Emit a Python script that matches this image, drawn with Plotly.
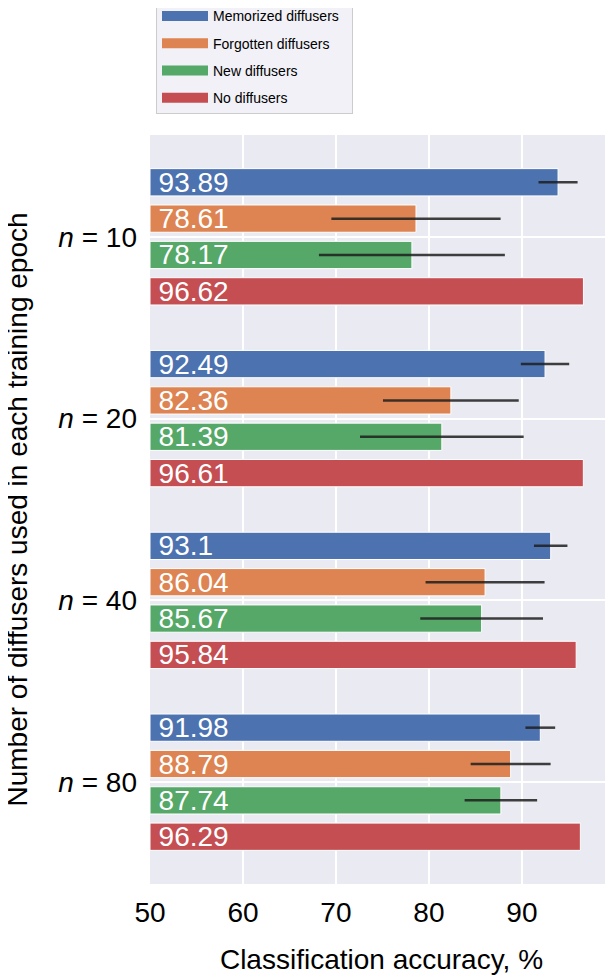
import plotly.graph_objects as go

# Veriler
groups = ["n = 10", "n = 20", "n = 40", "n = 80"]
group_labels = ["<i>n</i> = 10", "<i>n</i> = 20", "<i>n</i> = 40", "<i>n</i> = 80"]
series = ["Memorized diffusers", "Forgotten diffusers", "New diffusers", "No diffusers"]
colors = ["#4C72B0", "#DD8452", "#55A868", "#C44E52"]

memorized = [93.89, 92.49, 93.1, 91.98]
forgotten = [78.61, 82.36, 86.04, 88.79]
new = [78.17, 81.39, 85.67, 87.74]
no_diff = [96.62, 96.61, 95.84, 96.29]

memorized_err = [2.1, 2.6, 1.8, 1.6]
forgotten_err = [9.1, 7.3, 6.4, 4.3]
new_err = [10.0, 8.8, 6.6, 3.9]
no_diff_err = [0, 0, 0, 0]

values = [memorized, forgotten, new, no_diff]
errors = [memorized_err, forgotten_err, new_err, no_diff_err]

X_MIN = 50  # eksen başlangıcı, barlar buradan başlıyor
FONT = "Liberation Sans, Arial, Helvetica, sans-serif"

fig = go.Figure()
for name, vals, errs, col in zip(series, values, errors, colors):
    fig.add_trace(go.Bar(
        y=groups, x=[v - X_MIN for v in vals], base=X_MIN,
        orientation="h", name=name,
        marker=dict(color=col, line=dict(color="white", width=1)),
        text=["\u2009" + str(v) for v in vals],
        textposition="inside", insidetextanchor="start",
        textangle=0, constraintext="none",
        textfont=dict(color="white", size=28, family=FONT),
        error_x=dict(type="data", array=errs, visible=True,
                     color="rgba(30,30,30,0.85)", thickness=2.5, width=0),
        showlegend=False, customdata=vals,
        hovertemplate="%{customdata}<extra>" + name + "</extra>",
    ))

# legend kutuları (geniş renk şeritleri için)
for name, col in zip(series, colors):
    fig.add_trace(go.Scatter(
        x=[None], y=[None], mode="lines", name=name + "\u00a0\u00a0",
        legendgroup=name, line=dict(color=col, width=12), showlegend=True,
    ))

# sayfa 8px kenar boşluğuyla açılıyor, ölçüler buna göre
W, H = 605, 967
fig.update_layout(
    width=W, height=H,
    margin=dict(l=142, r=0, t=127, b=91, autoexpand=False),
    barmode="group", bargap=0.2, bargroupgap=0.25,
    plot_bgcolor="#EAEAF2", paper_bgcolor="white",
    font=dict(family=FONT, color="black", size=28),
    legend=dict(
        x=148 / W, y=1.181, xref="container", yref="paper",
        xanchor="left", yanchor="top",
        bgcolor="rgba(240,240,246,0.9)", bordercolor="#CCCCCC", borderwidth=1,
        font=dict(size=14, family=FONT), tracegroupgap=6, itemwidth=46,
    ),
    xaxis=dict(
        range=[X_MIN, 99.8], tickvals=[50, 60, 70, 80, 90],
        showgrid=True, gridcolor="white", gridwidth=1.5,
        zeroline=False, showline=False, ticks="", tickangle=0,
        automargin=False,
        ticklabelstandoff=9, tickfont=dict(size=28),
        title=dict(text="Classification accuracy, %", font=dict(size=28), standoff=23),
    ),
    yaxis=dict(
        type="category", categoryarray=groups,
        range=[3.56, -0.56], automargin=False,
        tickvals=groups, ticktext=group_labels,
        showgrid=True, gridcolor="white", gridwidth=1.5,
        zeroline=False, showline=False, ticks="",
        ticklabelstandoff=12, tickfont=dict(size=28),
    ),
    annotations=[dict(
        text="Number of diffusers used in each training epoch",
        textangle=-90, xref="paper", yref="paper",
        x=-133 / (W - 142), y=0.5, xanchor="center", yanchor="middle",
        showarrow=False, font=dict(size=28, family=FONT),
    )],
)

fig.write_html("out.html")
